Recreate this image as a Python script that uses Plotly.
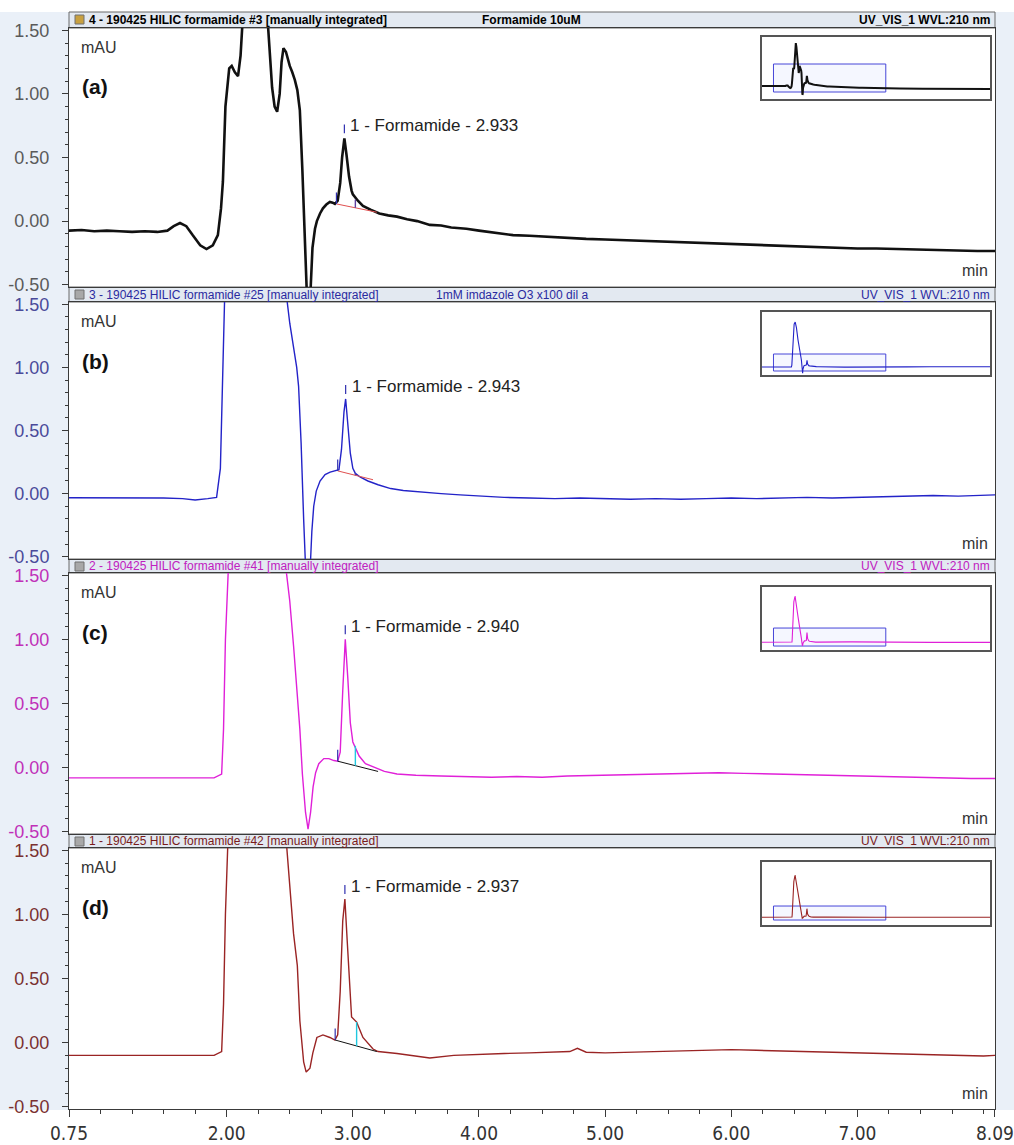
import plotly.graph_objects as go

W, H = 1014, 1145

# Axis windows (retention time in min, absorbance in mAU)
t_lo, t_hi = 0.75, 8.09
mau_lo, mau_hi = -0.5, 1.5
x_tick_vals = [0.75, 2.0, 3.0, 4.0, 5.0, 6.0, 7.0, 8.09]
x_tick_text = ["0.75", "2.00", "3.00", "4.00", "5.00", "6.00", "7.00", "8.09"]
y_tick_vals = [-0.5, 0.0, 0.5, 1.0, 1.5]
y_tick_text = ["-0.50", "0.00", "0.50", "1.00", "1.50"]

# Run 4 - Formamide 10uM (full run, min / mAU)
t_a = [0.00, 0.40, 0.75, 0.85, 0.95, 1.05, 1.15, 1.25, 1.35, 1.45, 1.53, 1.58, 1.63, 1.68, 1.73, 1.79,
       1.84, 1.89, 1.93, 1.955, 1.97, 1.99, 2.02, 2.04, 2.065, 2.09, 2.11, 2.13, 2.17, 2.21, 2.25, 2.30,
       2.33, 2.36, 2.38, 2.40, 2.42, 2.435, 2.45, 2.47, 2.50, 2.52, 2.54, 2.56, 2.58, 2.60, 2.62, 2.64,
       2.66, 2.68, 2.70, 2.715, 2.74, 2.763, 2.79, 2.818, 2.84, 2.858, 2.88, 2.90, 2.915, 2.933, 2.95,
       2.97, 2.99, 3.00, 3.04, 3.08, 3.14, 3.21, 3.28, 3.35, 3.43, 3.51, 3.61, 3.70, 3.78, 3.90, 4.00,
       4.12, 4.27, 4.40, 4.55, 4.70, 4.85, 5.00, 5.15, 5.30, 5.45, 5.60, 5.75, 5.90, 6.05, 6.20, 6.35,
       6.54, 6.70, 6.85, 7.00, 7.15, 7.33, 7.50, 7.65, 7.80, 7.95, 8.09, 9.0, 10.5, 12.0, 13.5, 14.9]
mau_a = [-0.07, -0.08, -0.075, -0.07, -0.08, -0.075, -0.08, -0.085, -0.08, -0.085, -0.075, -0.04, -0.015,
         -0.04, -0.11, -0.19, -0.22, -0.19, -0.11, 0.10, 0.31, 0.90, 1.20, 1.22, 1.17, 1.14, 1.30, 1.60,
         2.50, 3.00, 2.70, 2.00, 1.50, 1.05, 0.90, 0.86, 1.00, 1.25, 1.36, 1.33, 1.22, 1.17, 1.11, 1.03,
         0.87, 0.40, -0.30, -0.70, -0.65, -0.21, -0.06, 0.00, 0.06, 0.10, 0.13, 0.15, 0.145, 0.135, 0.16,
         0.30, 0.50, 0.65, 0.52, 0.35, 0.24, 0.21, 0.16, 0.12, 0.09, 0.06, 0.045, 0.035, 0.015, 0.00,
         -0.03, -0.035, -0.05, -0.06, -0.075, -0.09, -0.11, -0.115, -0.125, -0.13, -0.14, -0.145, -0.15,
         -0.16, -0.16, -0.17, -0.175, -0.18, -0.185, -0.19, -0.195, -0.20, -0.205, -0.21, -0.215, -0.215,
         -0.22, -0.225, -0.23, -0.23, -0.235, -0.235, -0.25, -0.26, -0.27, -0.27, -0.28]

# Run 3 - 1mM imdazole O3 x100 dil a
t_b = [0.00, 0.40, 0.75, 0.90, 1.05, 1.20, 1.35, 1.50, 1.65, 1.75, 1.85, 1.92, 1.95, 1.97, 1.985, 2.02,
       2.10, 2.17, 2.25, 2.35, 2.43, 2.47, 2.50, 2.53, 2.555, 2.57, 2.59, 2.61, 2.63, 2.655, 2.675, 2.69,
       2.71, 2.74, 2.78, 2.82, 2.86, 2.89, 2.91, 2.93, 2.943, 2.96, 2.98, 3.00, 3.02, 3.06, 3.12, 3.20,
       3.30, 3.40, 3.55, 3.70, 3.85, 4.00, 4.20, 4.40, 4.60, 4.80, 5.00, 5.20, 5.40, 5.60, 5.80, 6.00,
       6.20, 6.40, 6.60, 6.80, 7.00, 7.20, 7.40, 7.60, 7.80, 8.00, 8.09, 9.5, 11.0, 13.0, 14.9]
mau_b = [-0.03, -0.03, -0.03, -0.035, -0.03, -0.035, -0.03, -0.035, -0.04, -0.05, -0.04, -0.03, 0.20,
         0.90, 1.60, 3.50, 5.00, 5.26, 4.60, 3.20, 2.10, 1.60, 1.35, 1.15, 1.00, 0.85, 0.40, -0.20, -0.70,
         -0.75, -0.30, -0.10, 0.02, 0.10, 0.15, 0.17, 0.18, 0.19, 0.35, 0.65, 0.75, 0.55, 0.32, 0.20, 0.16,
         0.13, 0.10, 0.07, 0.04, 0.025, 0.01, 0.00, -0.01, -0.02, -0.03, -0.035, -0.04, -0.035, -0.04,
         -0.045, -0.04, -0.045, -0.04, -0.035, -0.04, -0.035, -0.03, -0.035, -0.03, -0.025, -0.02, -0.015,
         -0.02, -0.01, -0.01, -0.01, 0.00, 0.00, 0.00]

# Run 2 - HILIC formamide #41
t_c = [0.00, 0.40, 0.75, 0.90, 1.05, 1.20, 1.35, 1.50, 1.65, 1.80, 1.90, 1.96, 1.975, 1.99, 2.01, 2.08,
       2.16, 2.25, 2.35, 2.43, 2.47, 2.50, 2.53, 2.56, 2.58, 2.60, 2.625, 2.645, 2.665, 2.685, 2.705,
       2.73, 2.77, 2.81, 2.85, 2.88, 2.90, 2.92, 2.94, 2.96, 2.98, 3.00, 3.02, 3.05, 3.10, 3.17, 3.25,
       3.35, 3.50, 3.70, 3.90, 4.10, 4.30, 4.50, 4.70, 4.90, 5.10, 5.30, 5.50, 5.70, 5.90, 6.10, 6.30,
       6.50, 6.70, 6.90, 7.10, 7.30, 7.50, 7.70, 7.90, 8.09, 9.5, 11.0, 13.0, 14.9]
mau_c = [-0.08, -0.08, -0.08, -0.085, -0.08, -0.085, -0.08, -0.085, -0.08, -0.085, -0.08, -0.05, 0.30,
         1.00, 2.20, 4.40, 5.06, 4.20, 2.80, 1.90, 1.55, 1.30, 0.95, 0.60, 0.30, -0.05, -0.35, -0.48,
         -0.35, -0.15, -0.04, 0.03, 0.07, 0.07, 0.055, 0.05, 0.12, 0.60, 1.00, 0.70, 0.35, 0.20, 0.16,
         0.09, 0.03, 0.00, -0.03, -0.05, -0.06, -0.065, -0.07, -0.075, -0.07, -0.075, -0.065, -0.06,
         -0.055, -0.05, -0.045, -0.04, -0.04, -0.045, -0.05, -0.055, -0.06, -0.065, -0.07, -0.075, -0.08,
         -0.08, -0.085, -0.085, -0.09, -0.09, -0.09, -0.09]

# Run 1 - HILIC formamide #42
t_d = [0.00, 0.40, 0.75, 0.90, 1.05, 1.20, 1.35, 1.50, 1.65, 1.80, 1.90, 1.96, 1.975, 1.99, 2.01, 2.08,
       2.16, 2.25, 2.35, 2.43, 2.47, 2.50, 2.53, 2.56, 2.58, 2.61, 2.63, 2.66, 2.683, 2.715, 2.763, 2.818,
       2.858, 2.88, 2.90, 2.92, 2.937, 2.955, 2.975, 2.99, 3.03, 3.08, 3.16, 3.20, 3.35, 3.61, 3.80, 4.00,
       4.20, 4.40, 4.60, 4.72, 4.78, 4.85, 5.00, 5.20, 5.40, 5.60, 5.80, 6.00, 6.20, 6.40, 6.60, 6.80,
       7.00, 7.20, 7.40, 7.60, 7.80, 8.00, 8.09, 9.5, 11.0, 13.0, 14.9]
mau_d = [-0.10, -0.10, -0.10, -0.105, -0.10, -0.105, -0.10, -0.105, -0.10, -0.105, -0.10, -0.07, 0.30,
         1.00, 2.30, 5.00, 5.93, 4.80, 3.20, 2.00, 1.60, 1.20, 0.85, 0.60, 0.17, -0.15, -0.23, -0.20,
         -0.08, 0.04, 0.06, 0.04, 0.02, 0.06, 0.40, 0.95, 1.12, 0.80, 0.40, 0.20, 0.16, 0.04, -0.05, -0.07,
         -0.085, -0.12, -0.10, -0.09, -0.085, -0.08, -0.075, -0.07, -0.045, -0.075, -0.08, -0.075, -0.07,
         -0.065, -0.06, -0.055, -0.06, -0.065, -0.07, -0.08, -0.085, -0.09, -0.095, -0.10, -0.10, -0.105,
         -0.10, -0.10, -0.10, -0.10, -0.10]

# Integrated formamide peak per run: apex, start / end of drawn baseline, delimiter time
apex_t = [2.933, 2.943, 2.940, 2.937]
apex_mau = [0.65, 0.75, 1.00, 1.12]
base_start = [(2.87, 0.135), (2.88, 0.18), (2.88, 0.05), (2.86, 0.02)]
base_end = [(3.19, 0.07), (3.16, 0.11), (3.20, -0.03), (3.19, -0.07)]
delim_t = [3.02, 3.02, 3.02, 3.03]
delim_top = [0.17, 0.16, 0.17, 0.16]

series_t = [t_a, t_b, t_c, t_d]
series_mau = [mau_a, mau_b, mau_c, mau_d]
panel_tags = ["(a)", "(b)", "(c)", "(d)"]
header_left = ["4 - 190425 HILIC formamide #3 [manually integrated]",
               "3 - 190425 HILIC formamide #25 [manually integrated]",
               "2 - 190425 HILIC formamide #41 [manually integrated]",
               "1 - 190425 HILIC formamide #42 [manually integrated]"]
header_mid = ["Formamide 10uM", "1mM imdazole O3 x100 dil a", "", ""]
header_right = "UV_VIS_1 WVL:210 nm"

# Styling per panel
line_colors = ["#111111", "#2323C8", "#E020D8", "#9A2424"]
line_widths = [2.6, 1.4, 1.4, 1.4]
header_colors = ["#000000", "#2A2AA0", "#C020C0", "#7A1A1A"]
tick_colors = ["#5A5A5A", "#4A4A9A", "#C030B8", "#7A3030"]
inset_ranges = [(-1.0, 3.43), (-0.97, 6.44), (-0.94, 6.06), (-1.21, 7.79)]
baseline_colors = ["#E05050", "#E05050", "#111111", "#111111"]

# Pixel geometry of the stacked panels
box_l, box_r = 69, 995
hdr_top = [12, 287, 559, 834]
box_top = [28, 302, 573, 848]
box_bot = [287, 559, 834, 1109]
ins_l, ins_r = 762, 990
ins_top = [37, 312, 587, 862]
ins_bot = [99, 375, 650, 925]
y_pad = 0.018


def fx(p):
    return p / W


def fy(p):
    return 1 - p / H


fig = go.Figure()
shapes = []
ann = []

# page background: pale blue margins around the chart stack
shapes.append(dict(type="rect", xref="paper", yref="paper", x0=0, x1=fx(box_l), y0=fy(1110), y1=fy(12),
                   fillcolor="#EAF0F8", line=dict(width=0), layer="below"))
shapes.append(dict(type="rect", xref="paper", yref="paper", x0=fx(box_r), x1=1, y0=fy(1110), y1=fy(12),
                   fillcolor="#EAF0F8", line=dict(width=0), layer="below"))

layout_axes = {}
for i in range(4):
    n = i + 1
    xs = "" if n == 1 else str(n)
    xa = dict(domain=[fx(box_l), fx(box_r)], range=[t_lo, t_hi + 0.0005], anchor="y" + xs,
              showline=True, mirror=True, linecolor="#3A3A3A", linewidth=1, automargin=False,
              showgrid=False, zeroline=False, fixedrange=True)
    if n == 4:
        xa.update(ticks="outside", ticklen=7, tickwidth=1, tickcolor="#3A3A3A",
                  tickmode="array", tickvals=x_tick_vals, ticktext=x_tick_text,
                  ticklabeloverflow="allow",
                  tickfont=dict(family="Liberation Sans Narrow, DejaVu Sans Condensed, Arial Narrow, sans-serif",
                                size=19, color="#333333"),
                  minor=dict(ticks="outside", ticklen=4, tick0=0, dtick=0.25, tickcolor="#3A3A3A"))
    else:
        xa.update(showticklabels=False, ticks="")
    ya = dict(domain=[fy(box_bot[i]), fy(box_top[i])], range=[mau_lo - y_pad, mau_hi + y_pad],
              anchor="x" + xs, showline=True, mirror=True, linecolor="#3A3A3A", linewidth=1,
              showgrid=False, zeroline=False, fixedrange=True, automargin=False,
              ticks="outside", ticklen=6, tickcolor="#3A3A3A",
              tickmode="array", tickvals=y_tick_vals, ticktext=y_tick_text,
              ticklabelstandoff=9,
              tickfont=dict(family="Liberation Sans, Arial, sans-serif", size=18, color=tick_colors[i]),
              minor=dict(ticks="outside", ticklen=3, tick0=0, dtick=0.1, tickcolor="#3A3A3A"))
    layout_axes["xaxis" + xs] = xa
    layout_axes["yaxis" + xs] = ya

    # overview inset
    m = n + 4
    layout_axes["xaxis%d" % m] = dict(domain=[fx(ins_l), fx(ins_r)], range=[0, 14.9], anchor="y%d" % m,
                                      showline=True, mirror=True, linecolor="#555555", linewidth=1.5,
                                      showgrid=False, zeroline=False, showticklabels=False, ticks="",
                                      fixedrange=True, automargin=False)
    layout_axes["yaxis%d" % m] = dict(domain=[fy(ins_bot[i]), fy(ins_top[i])], range=list(inset_ranges[i]),
                                      anchor="x%d" % m, showline=True, mirror=True, linecolor="#555555",
                                      linewidth=1.5, showgrid=False, zeroline=False, showticklabels=False,
                                      ticks="", fixedrange=True, automargin=False)

    # chromatogram
    fig.add_trace(go.Scatter(x=series_t[i], y=series_mau[i], mode="lines", xaxis="x" + xs, yaxis="y" + xs,
                             line=dict(color=line_colors[i], width=line_widths[i]), showlegend=False,
                             hoverinfo="skip"))
    # integration baseline under the formamide peak
    (s_t, s_v), (e_t, e_v) = base_start[i], base_end[i]
    fig.add_trace(go.Scatter(x=[s_t, e_t], y=[s_v, e_v], mode="lines", xaxis="x" + xs, yaxis="y" + xs,
                             line=dict(color=baseline_colors[i], width=1), showlegend=False, hoverinfo="skip"))
    # peak start delimiter and apex marker
    fig.add_trace(go.Scatter(x=[s_t, s_t, None, apex_t[i], apex_t[i]],
                             y=[s_v, s_v + 0.09, None, apex_mau[i] + 0.04, apex_mau[i] + 0.11],
                             mode="lines", xaxis="x" + xs, yaxis="y" + xs,
                             line=dict(color="#3030B0", width=1.2), showlegend=False, hoverinfo="skip"))
    # peak end delimiter
    slope = (e_v - s_v) / (e_t - s_t)
    d_base = s_v + slope * (delim_t[i] - s_t)
    fig.add_trace(go.Scatter(x=[delim_t[i], delim_t[i]], y=[d_base, delim_top[i]], mode="lines",
                             xaxis="x" + xs, yaxis="y" + xs,
                             line=dict(color="#20C8E0" if i >= 2 else "#6040A0", width=1.4),
                             showlegend=False, hoverinfo="skip"))
    # inset trace and zoom window
    fig.add_trace(go.Scatter(x=series_t[i], y=series_mau[i], mode="lines", xaxis="x%d" % m, yaxis="y%d" % m,
                             line=dict(color=line_colors[i], width=2 if i == 0 else 1.1),
                             showlegend=False, hoverinfo="skip"))
    shapes.append(dict(type="rect", xref="x%d" % m, yref="y%d" % m, x0=t_lo, x1=t_hi, y0=mau_lo, y1=mau_hi,
                       fillcolor="rgba(215,222,255,0.25)", line=dict(color="#4646D8", width=1), layer="below"))

    # header strip
    shapes.append(dict(type="rect", xref="paper", yref="paper", x0=fx(box_l), x1=fx(box_r),
                       y0=fy(box_top[i]), y1=fy(hdr_top[i]), fillcolor="#E3E9F1",
                       line=dict(color="#6A6A6A", width=1), layer="below"))
    shapes.append(dict(type="rect", xref="paper", yref="paper", x0=fx(75), x1=fx(84),
                       y0=fy(hdr_top[i] + 12), y1=fy(hdr_top[i] + 3),
                       fillcolor="#C8A040" if i == 0 else "#A8A8A8", line=dict(color="#707070", width=1)))
    hy = fy((hdr_top[i] + box_top[i]) / 2)
    hfont = dict(family="Liberation Sans, Arial, sans-serif", size=12, color=header_colors[i])
    if i == 0:
        hfont = dict(family="Liberation Sans, Arial, sans-serif", size=12, color=header_colors[i], weight="bold")
    ann.append(dict(xref="paper", yref="paper", x=fx(87), y=hy, text=header_left[i], showarrow=False,
                    xanchor="left", yanchor="middle", font=hfont))
    if header_mid[i]:
        ann.append(dict(xref="paper", yref="paper", x=fx(480 if i == 0 else 434), y=hy, text=header_mid[i],
                        showarrow=False, xanchor="left", yanchor="middle", font=hfont))
    ann.append(dict(xref="paper", yref="paper", x=fx(992), y=hy, text=header_right, showarrow=False,
                    xanchor="right", yanchor="middle", font=hfont))

    # in-plot labels
    ann.append(dict(xref="paper", yref="paper", x=fx(79), y=fy(box_top[i] + 19), text="mAU", showarrow=False,
                    xanchor="left", yanchor="middle",
                    font=dict(family="Liberation Sans, Arial, sans-serif", size=16, color="#333333")))
    ann.append(dict(xref="paper", yref="paper", x=fx(80), y=fy(box_top[i] + 59), text=panel_tags[i],
                    showarrow=False, xanchor="left", yanchor="middle",
                    font=dict(family="Liberation Sans, Arial, sans-serif", size=21, color="#111111",
                              weight="bold")))
    ann.append(dict(xref="paper", yref="paper", x=fx(990), y=fy(box_bot[i] - 16), text="min", showarrow=False,
                    xanchor="right", yanchor="middle",
                    font=dict(family="Liberation Sans, Arial, sans-serif", size=16, color="#333333")))
    ann.append(dict(xref="x" + xs, yref="y" + xs, x=apex_t[i], y=apex_mau[i] + 0.1,
                    text="1 - Formamide - %.3f" % apex_t[i], showarrow=False, xanchor="left",
                    yanchor="middle", xshift=4,
                    font=dict(family="Liberation Sans, Arial, sans-serif", size=17, color="#222222")))

fig.update_layout(width=W, height=H, margin=dict(l=0, r=0, t=0, b=0, autoexpand=False),
                  paper_bgcolor="white", plot_bgcolor="white",
                  shapes=shapes, annotations=ann, showlegend=False, **layout_axes)

fig.write_html("out.html")
